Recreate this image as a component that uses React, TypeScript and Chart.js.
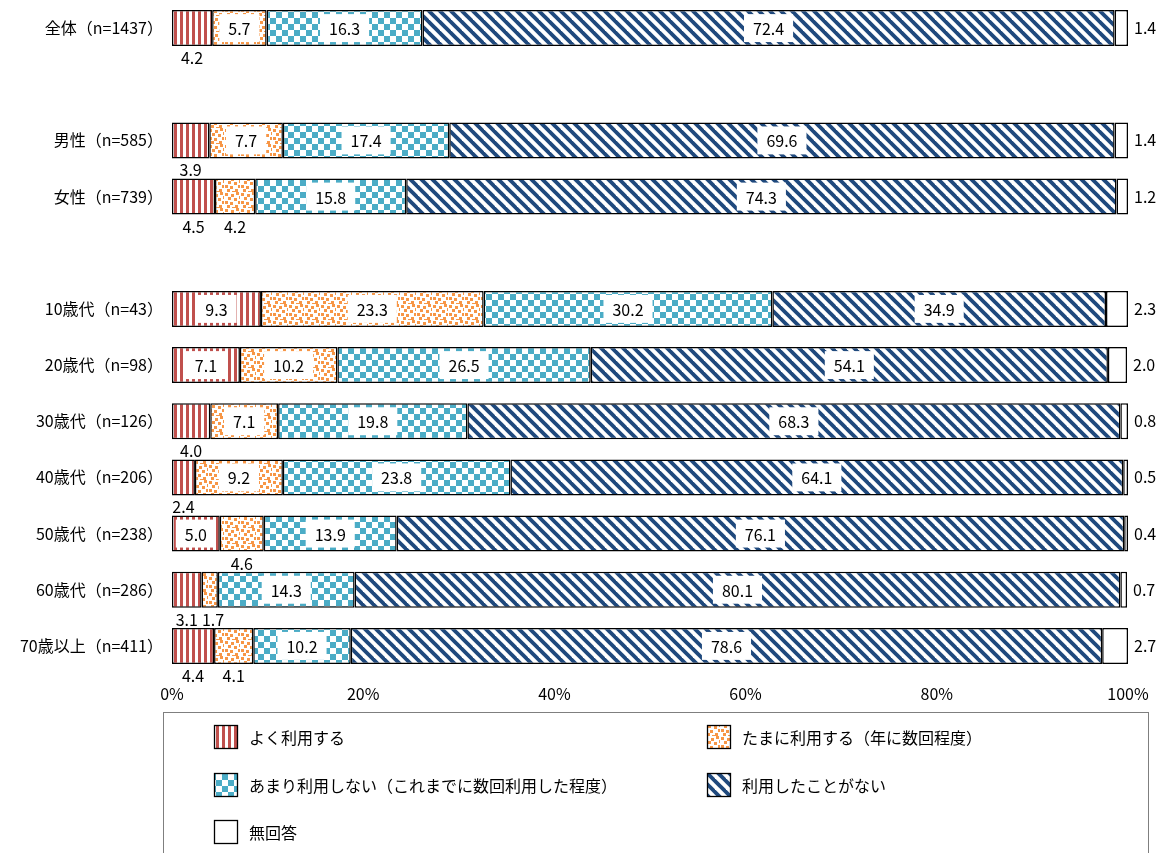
import React, { useEffect, useRef } from "react";
import { Chart, registerables } from "chart.js";

Chart.register(...registerables);

const categories = [
  "全体（n=1437）",
  "",
  "男性（n=585）",
  "女性（n=739）",
  "",
  "10歳代（n=43）",
  "20歳代（n=98）",
  "30歳代（n=126）",
  "40歳代（n=206）",
  "50歳代（n=238）",
  "60歳代（n=286）",
  "70歳以上（n=411）",
];

const seriesNames = [
  "よく利用する",
  "たまに利用する（年に数回程度）",
  "あまり利用しない（これまでに数回利用した程度）",
  "利用したことがない",
  "無回答",
];

const oftenUse = [4.2, null, 3.9, 4.5, null, 9.3, 7.1, 4.0, 2.4, 5.0, 3.1, 4.4];
const sometimesUse = [5.7, null, 7.7, 4.2, null, 23.3, 10.2, 7.1, 9.2, 4.6, 1.7, 4.1];
const rarelyUse = [16.3, null, 17.4, 15.8, null, 30.2, 26.5, 19.8, 23.8, 13.9, 14.3, 10.2];
const neverUse = [72.4, null, 69.6, 74.3, null, 34.9, 54.1, 68.3, 64.1, 76.1, 80.1, 78.6];
const noAnswer = [1.4, null, 1.4, 1.2, null, 2.3, 2.0, 0.8, 0.5, 0.4, 0.7, 2.7];

const xTicks = [0, 20, 40, 60, 80, 100];

const FONT = '"Noto Sans CJK JP", "Noto Sans", sans-serif';

function makeTile(w: number, h: number, draw: (c: CanvasRenderingContext2D) => void) {
  const t = document.createElement("canvas");
  t.width = w;
  t.height = h;
  const c = t.getContext("2d")!;
  c.fillStyle = "#ffffff";
  c.fillRect(0, 0, w, h);
  draw(c);
  return t;
}

function buildPatterns(ctx: CanvasRenderingContext2D) {
  const stripes = makeTile(6, 6, (c) => {
    c.fillStyle = "#c0504d";
    c.fillRect(0, 0, 3, 6);
  });
  const dots = makeTile(16, 16, (c) => {
    c.fillStyle = "#f79646";
    const pts = [
      [1, 1], [7, 2], [12, 0], [4, 5], [10, 6], [14, 9],
      [1, 9], [6, 10], [11, 13], [3, 13], [8, 15], [15, 4],
    ];
    pts.forEach(([x, y]) => c.fillRect(x, y, 3, 3));
  });
  const checker = makeTile(12, 12, (c) => {
    c.fillStyle = "#4bacc6";
    c.fillRect(0, 0, 6, 6);
    c.fillRect(6, 6, 6, 6);
  });
  const diag = makeTile(11, 11, (c) => {
    c.strokeStyle = "#1f497d";
    c.lineWidth = 3.8;
    for (let k = -1; k <= 1; k++) {
      c.beginPath();
      c.moveTo(k * 11 - 2, -2);
      c.lineTo(k * 11 + 13, 13);
      c.stroke();
    }
  });
  return [
    ctx.createPattern(stripes, "repeat")!,
    ctx.createPattern(dots, "repeat")!,
    ctx.createPattern(checker, "repeat")!,
    ctx.createPattern(diag, "repeat")!,
    "#ffffff",
  ];
}

const labelPlugin = {
  id: "valueLabels",
  afterDatasetsDraw(chart: any) {
    const ctx: CanvasRenderingContext2D = chart.ctx;
    ctx.save();
    ctx.font = `16px ${FONT}`;
    ctx.textBaseline = "middle";
    const lastBelowRight: Record<number, number> = {};
    chart.data.datasets.forEach((ds: any, di: number) => {
      const meta = chart.getDatasetMeta(di);
      meta.data.forEach((bar: any, i: number) => {
        const v = ds.data[i];
        if (v === null || v === undefined) return;
        const txt = v.toFixed(1);
        const left = Math.min(bar.x, bar.base);
        const right = Math.max(bar.x, bar.base);
        const cx = (left + right) / 2;
        const top = bar.y - bar.height / 2;
        const bottom = bar.y + bar.height / 2;
        const tw = ctx.measureText(txt).width;
        if (di === 4) {
          ctx.fillStyle = "#000";
          ctx.textAlign = "left";
          ctx.fillText(txt, right + 6, bar.y);
          return;
        }
        if (v >= 5) {
          const bw = Math.min(tw + 18, right - left - 6);
          ctx.fillStyle = "#ffffff";
          ctx.fillRect(cx - bw / 2, top + 4, bw, bottom - top - 8);
          ctx.fillStyle = "#000";
          ctx.textAlign = "center";
          ctx.fillText(txt, cx, bar.y + 1);
        } else {
          let x = cx - tw / 2;
          const prev = lastBelowRight[i];
          if (prev !== undefined && x < prev + 4) x = prev + 4;
          lastBelowRight[i] = x + tw;
          ctx.fillStyle = "#000";
          ctx.textAlign = "left";
          ctx.fillText(txt, x, bottom + 12);
        }
      });
    });
    ctx.restore();
  },
};

function makeLegendPlugin(pats: any[]) {
  return {
    id: "boxLegend",
    afterDraw(chart: any) {
      const ctx: CanvasRenderingContext2D = chart.ctx;
      ctx.save();
      ctx.strokeStyle = "#7f7f7f";
      ctx.lineWidth = 1;
      ctx.strokeRect(163.5, 712.5, 985, 200);
      const pos = [
        [214, 737],
        [707, 737],
        [214, 785],
        [707, 785],
        [214, 832],
      ];
      ctx.font = `16px ${FONT}`;
      ctx.textBaseline = "middle";
      ctx.textAlign = "left";
      seriesNames.forEach((name, i) => {
        const [x, y] = pos[i];
        ctx.fillStyle = pats[i];
        ctx.fillRect(x, y - 12, 24, 24);
        ctx.strokeStyle = "#000";
        ctx.lineWidth = 1.3;
        ctx.strokeRect(x + 0.5, y - 11.5, 23, 23);
        ctx.fillStyle = "#000";
        ctx.fillText(name, x + 35, y + 1);
      });
      ctx.restore();
    },
  };
}

export default function App() {
  const ref = useRef<HTMLCanvasElement>(null);
  useEffect(() => {
    const canvas = ref.current!;
    const ctx = canvas.getContext("2d")!;
    const pats = buildPatterns(ctx);
    const seriesData = [oftenUse, sometimesUse, rarelyUse, neverUse, noAnswer];
    const chart: any = new Chart(canvas, {
      type: "bar",
      data: {
        labels: categories,
        datasets: seriesData.map((d, i) => ({
          label: seriesNames[i],
          data: d,
          backgroundColor: pats[i] as any,
          borderColor: "#000000",
          borderWidth: 1.5,
          borderSkipped: false,
          barPercentage: 0.64,
          categoryPercentage: 1,
        })),
      },
      options: {
        indexAxis: "y",
        responsive: false,
        animation: false,
        events: [],
        layout: { padding: { left: 0, top: 0, right: 35, bottom: 149 } },
        plugins: {
          legend: { display: false },
          tooltip: { enabled: false },
        },
        scales: {
          x: {
            stacked: true,
            min: 0,
            max: 100,
            grid: { display: false, drawTicks: false },
            border: { display: false },
            afterBuildTicks: (s: any) => {
              s.ticks = xTicks.map((v) => ({ value: v }));
            },
            afterFit: (s: any) => {
              s.height = 30;
            },
            ticks: {
              padding: 10,
              color: "#000",
              font: { family: FONT, size: 16 },
              callback: (v: any) => `${v}%`,
            },
          },
          y: {
            stacked: true,
            grid: { display: false, drawTicks: false },
            border: { display: false },
            afterFit: (s: any) => {
              s.width = 172;
              s.paddingTop = 0;
              s.paddingBottom = 0;
            },
            ticks: {
              padding: 9,
              color: "#000",
              autoSkip: false,
              font: { family: FONT, size: 16 },
            },
          },
        },
      },
      plugins: [labelPlugin, makeLegendPlugin(pats)],
    });
    return () => chart.destroy();
  }, []);
  return (
    <div style={{ position: "fixed", left: 0, top: 0, width: 1163, height: 853, background: "#fff" }}>
      <canvas ref={ref} width={1163} height={853} />
    </div>
  );
}
